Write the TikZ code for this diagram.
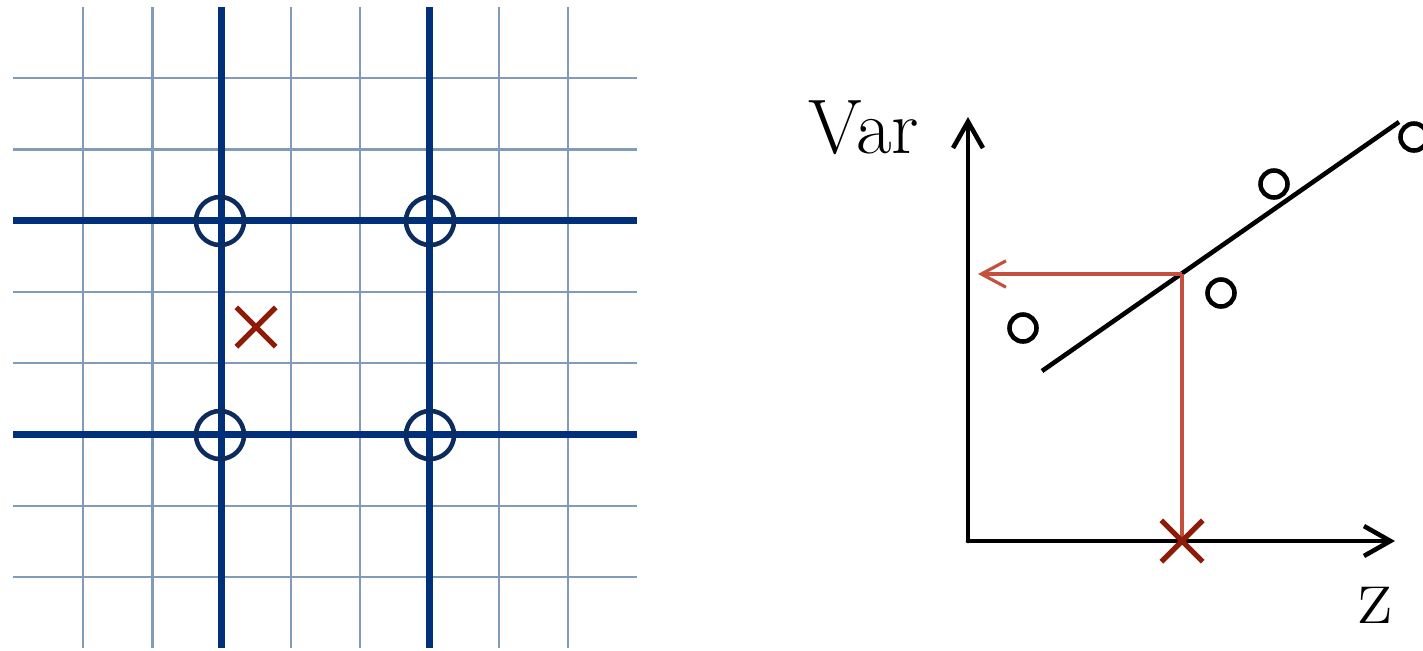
\documentclass[tikz,border=0pt]{standalone}
\usepackage{tikz}
\usetikzlibrary{arrows.meta, shapes.misc}
\definecolor{gridthin}{HTML}{809CBA}
\definecolor{gridthick}{HTML}{00307A}
\definecolor{ringblue}{HTML}{0C2B5E}
\definecolor{crossred}{HTML}{8E1A08}
\definecolor{projred}{HTML}{C4503E}
\tikzset{
  thingrid/.style={gridthin, line width=0.7pt},
  thickgrid/.style={gridthick, line width=2pt},
  ring/.style={circle, draw=ringblue, line width=1.3pt, minimum size=0.48cm, inner sep=0pt},
  sample/.style={circle, draw=black, line width=1.3pt, minimum size=0.27cm, inner sep=0pt},
  target/.style={cross out, draw=crossred, line width=1.5pt, minimum size=0.34cm, inner sep=0pt},
  axis/.style={-{Straight Barb[length=7.5pt, width=8.5pt]}, line width=1.3pt, line cap=round},
  fitline/.style={line width=1.3pt},
  proj/.style={projred, line width=0.9pt},
  lbl/.style={font=\fontsize{22}{26}\selectfont, inner sep=0pt},
}

\begin{document}
\begin{tikzpicture}[x=0.01cm, y=-0.01cm]
\useasboundingbox (0,0) rectangle (1423,650);
% fine grid, then the coarse lines
\foreach \i in {0,...,7}{
  \draw[thingrid] ({83+69.3*\i},7) -- ({83+69.3*\i},648);
  \draw[thingrid] (13,{78+71.3*\i}) -- (637,{78+71.3*\i});
}
\foreach \i in {2,5}{
  \draw[thickgrid] ({83+69.3*\i},7) -- ({83+69.3*\i},648);
  \draw[thickgrid] (13,{78+71.3*\i}) -- (637,{78+71.3*\i});
}
\foreach \cx/\cy [count=\k] in {220/221, 430/221, 220/435, 430/435}{
  \node[ring] (r\k) at (\cx,\cy) {};
}
\node[target] (query) at (256,327) {};

% right: projection onto the fitted line
\coordinate (o) at (968,541);
\coordinate (ytop) at (968,117);
\coordinate (xend) at (1395,541);
\draw[axis] (o) -- (ytop);
\draw[axis] (o) -- (xend);
\node[lbl, anchor=base] (varlbl) at (864,153) {Var};
\node[lbl, font=\fontsize{24}{28}\selectfont, anchor=base] (zlbl) at (1376,623) {z};

\coordinate (fitlo) at (1042,371);
\coordinate (fithi) at (1399,122);
\draw[fitline] (fitlo) -- (fithi);
\foreach \cx/\cy [count=\k] in {1023/328, 1221/293, 1274/184, 1414/137}{
  \node[sample] (s\k) at (\cx,\cy) {};
}

\coordinate (hit) at (1182,274);
\coordinate (vtip) at (978,274);
\draw[proj, -{Straight Barb[length=7pt, width=7.5pt]}] (hit) -- (vtip);
\draw[proj] (hit) -- (hit |- o);
\node[target, minimum size=0.36cm] (zx) at (hit |- o) {};
\end{tikzpicture}
\end{document}
